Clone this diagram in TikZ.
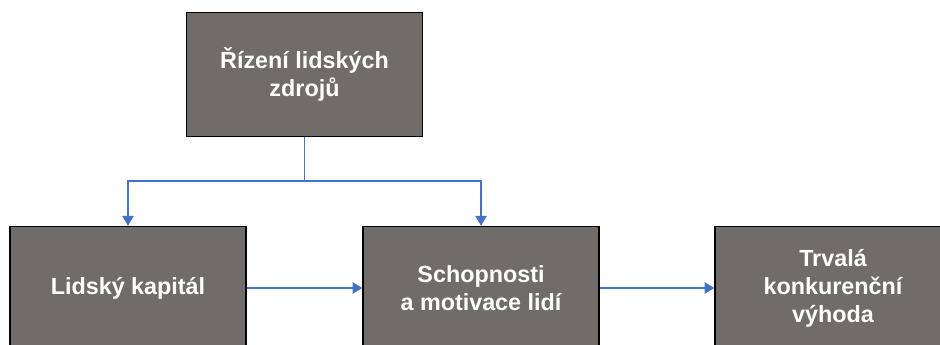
\documentclass[tikz,border=0pt]{standalone}
\usepackage{fontspec}
\setmainfont{Liberation Sans}
\usetikzlibrary{arrows.meta}
\definecolor{boxgray}{HTML}{706C6A}
\definecolor{linkblue}{HTML}{4472C4}
\tikzset{
  hrbox/.style={draw=black, line width=0.8pt, fill=boxgray, text=white,
    font=\fontsize{16.6}{20}\selectfont\bfseries, align=center,
    minimum width=5.9cm, minimum height=3.08cm, inner sep=0pt},
  link/.style={draw=linkblue, line width=1pt}
}
\begin{document}
\begin{tikzpicture}[x=0.025cm,y=-0.025cm,>={Triangle[width=8pt,length=7pt]}]
\useasboundingbox (0,0) rectangle (940,344);
\clip (0,0) rectangle (940,344);
%Khung tren
\node[hrbox] (hrm) at (304.5,74.5) {Řízení lidských\\zdrojů};
%Khung duoi
\node[hrbox] (capital) at (128,288) {Lidský kapitál};
\node[hrbox] (ability) at (481,288) {Schopnosti\\a motivace lidí};
\node[hrbox] (advantage) at (833,288) {Trvalá\\konkurenční\\výhoda};
%Nhanh
\coordinate (split) at (304.5,181);
\draw[link] (hrm.south) -- (split);
\draw[link,->] (split) -| (capital.north);
\draw[link,->] (split) -| (ability.north);
%Mui ten ngang
\draw[link,->] (capital) -- (ability);
\draw[link,->] (ability) -- (advantage);
\end{tikzpicture}
\end{document}
